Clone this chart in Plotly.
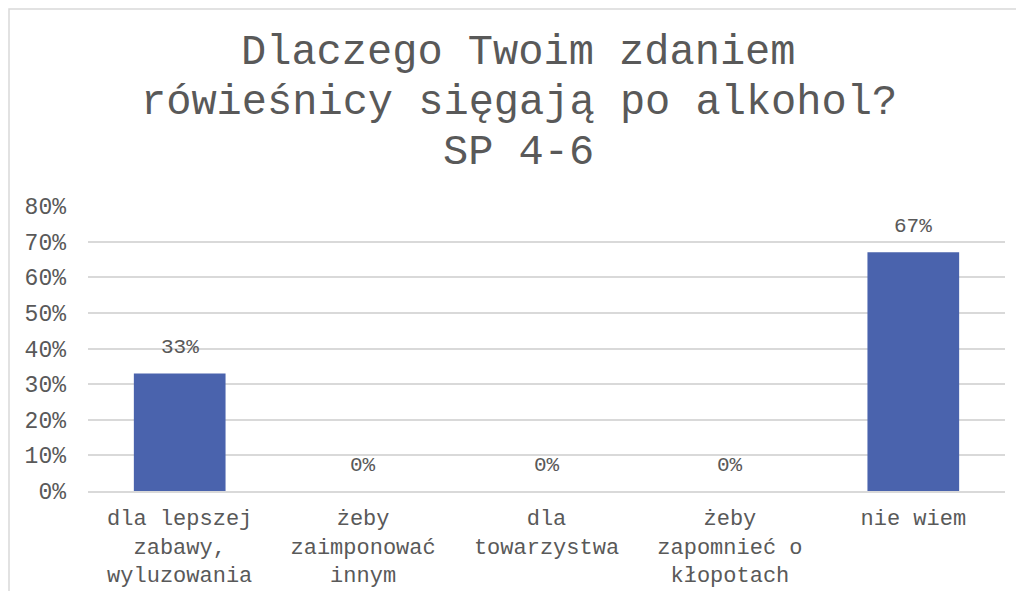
import plotly.graph_objects as go

categories = [
    "dla lepszej<br>zabawy,<br>wyluzowania",
    "żeby<br>zaimponować<br>innym",
    "dla<br>towarzystwa",
    "żeby<br>zapomnieć o<br>kłopotach",
    "nie wiem",
]
shares = [0.33, 0.0, 0.0, 0.0, 0.67]
y_ticks = [0, 0.1, 0.2, 0.3, 0.4, 0.5, 0.6, 0.7, 0.8]
title_lines = ["Dlaczego Twoim zdaniem", "rówieśnicy sięgają po alkohol?", "SP 4-6"]

FONT = "Liberation Mono, DejaVu Sans Mono, monospace"
GREY = "#595959"
GRID = "#d9d9d9"

fig = go.Figure(go.Bar(
    x=categories,
    y=shares,
    marker=dict(color="#4a63ad", line=dict(width=0)),
))

# page body keeps an 8px margin, so the figure is a bit smaller than the window
fig.update_layout(
    width=1008, height=583,
    paper_bgcolor="white", plot_bgcolor="white",
    margin=dict(l=80, r=11, t=198, b=100),
    bargap=0.5,
    showlegend=False,
    font=dict(family=FONT, color=GREY),
)

# title, one line at a time so the line spacing matches
for i, line in enumerate(title_lines):
    fig.add_annotation(
        text=line, xref="paper", yref="paper", x=0.47, y=1,
        xanchor="center", yanchor="middle", yshift=153 - 50 * i,
        showarrow=False, font=dict(family=FONT, size=42, color=GREY),
    )

# value labels above the bars
for cat, val in zip(categories, shares):
    fig.add_annotation(
        text=f"{val:.0%}", x=cat, y=val, xref="x", yref="y",
        yanchor="bottom", yshift=12, showarrow=False,
        font=dict(family=FONT, size=21, color=GREY),
    )

fig.update_xaxes(
    showgrid=False, showline=True, linecolor=GRID, linewidth=1.5,
    ticks="", automargin=False, ticklabelstandoff=6,
    tickfont=dict(family=FONT, size=22, color=GREY),
)
fig.update_yaxes(
    range=[0, 0.8], tickvals=y_ticks, tickformat=".0%",
    showgrid=True, gridcolor=GRID, gridwidth=1.5,
    zeroline=False, showline=False, ticks="", automargin=False,
    ticklabelstandoff=21,
    tickfont=dict(family=FONT, size=23, color=GREY),
)

# chart frame along the top and left edges of the figure
fig.add_shape(
    type="rect", layer="below",
    xref="paper", yref="paper",
    xsizemode="pixel", ysizemode="pixel",
    xanchor=0, yanchor=1,
    x0=-79, x1=1000, y0=197, y1=-600,
    line=dict(color=GRID, width=1.5), fillcolor="rgba(0,0,0,0)",
)

fig.write_html("out.html")
